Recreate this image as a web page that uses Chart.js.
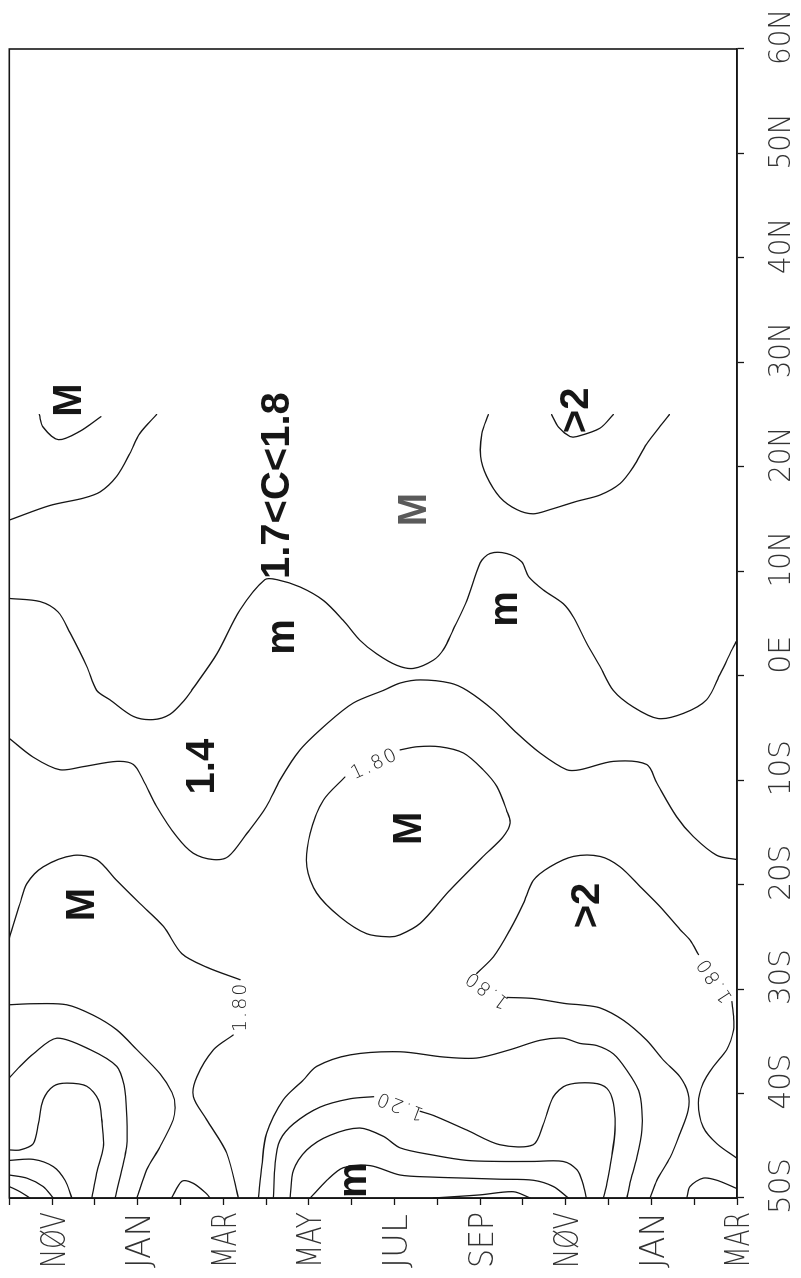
<!DOCTYPE html>
<html>
<head>
<meta charset="utf-8">
<title>Seasonal contour chart</title>
<script src="https://cdn.jsdelivr.net/npm/chart.js@4.4.0/dist/chart.umd.min.js"></script>
<style>
  html, body { margin: 0; padding: 0; background: #fff; overflow: hidden; }
  #wrap {
    position: absolute; left: 0; top: 0;
    width: 1278px; height: 801px;
    transform-origin: 0 0;
    transform: translateY(1278px) rotate(-90deg);
  }
</style>
</head>
<body>
<div id="wrap"><canvas id="contourChart" width="1278" height="801"></canvas></div>
<script>
// Axis labels (month index 0 = OCT, latitude in degrees, south negative)
const monthTicks = ['', 'NØV', '', 'JAN', '', 'MAR', '', 'MAY', '', 'JUL', '', 'SEP', '', 'NØV', '', 'JAN', '', 'MAR'];
const latTicks = ['50S', '40S', '30S', '20S', '10S', '0E', '10N', '20N', '30N', '40N', '50N', '60N'];

// Contour lines, each point is [month index, latitude]
const contourA = [[0.70, 25.0], [0.79, 23.8], [1.15, 22.6], [1.65, 23.4], [2.14, 24.8]];
const contourB = [[3.44, 25.0], [3.05, 23.2], [2.82, 21.3], [2.51, 19.1], [2.12, 17.6], [1.73, 17.0], [0.95, 16.3], [0, 14.9]];
const contourC = [[0, 7.4], [0.72, 7.1], [1.14, 6.1], [1.42, 4.1], [1.81, 0.9], [2.04, -1.4], [2.35, -2.3], [2.90, -3.9], [3.36, -4.2], [3.75, -3.7], [4.10, -2.3], [4.26, -1.4], [4.85, 2.1], [5.39, 6.3], [5.97, 9.2], [6.25, 9.2], [6.79, 8.5], [7.34, 7.2], [7.80, 5.3], [8.19, 3.4], [8.58, 2.1], [9.05, 1.0], [9.44, 0.7], [9.91, 1.5], [10.14, 2.5], [10.37, 4.4], [10.69, 7.2], [11.00, 10.8], [11.23, 11.7], [11.62, 11.7], [11.97, 10.9], [12.13, 9.5], [12.48, 8.2], [12.94, 6.9], [13.18, 5.6], [13.49, 3.1], [13.80, 0.9], [14.11, -1.4], [14.58, -3.0], [15.16, -4.1], [15.75, -3.6], [16.29, -2.3], [16.61, 0.2], [16.92, 2.8], [17, 3.4]];
const contourD = [[12.67, 25.0], [12.83, 23.8], [13.10, 22.9], [13.26, 22.9], [13.80, 23.7], [14.11, 25.0]];
const contourE = [[11.19, 25.0], [11.04, 23.2], [11.01, 21.0], [11.15, 19.1], [11.46, 17.1], [11.86, 15.9], [12.24, 15.5], [12.63, 15.9], [13.26, 16.7], [13.80, 17.3], [14.27, 18.4], [14.58, 20.0], [14.89, 22.2], [15.13, 23.5], [15.42, 25.0]];
const contourF = [[0, -6.0], [0.56, -7.8], [1.18, -9.0], [1.73, -8.7], [2.51, -8.2], [2.90, -8.5], [3.13, -10.0], [3.44, -12.5], [3.91, -15.4], [4.30, -17.0], [4.77, -17.6], [5.12, -17.3], [5.55, -15.1], [6.01, -12.5], [6.32, -10.0], [6.79, -7.1], [7.42, -4.6], [8.04, -2.6], [8.74, -1.4], [9.13, -0.7], [9.60, -0.4], [10.30, -0.7], [10.69, -1.4], [11.31, -3.3], [11.86, -5.5], [12.40, -7.4], [13.02, -9.0], [13.33, -9.0], [14.11, -8.2], [14.89, -8.5], [15.13, -10.3], [15.59, -13.5], [15.98, -15.4], [16.53, -17.2], [17, -17.6]];
const contourG = [[7.84, -9.7], [7.34, -11.9], [7.03, -15.1], [6.95, -18.3], [7.18, -20.8], [7.73, -23.1], [8.35, -24.7], [8.89, -25.0], [9.13, -24.8], [9.60, -23.7], [10.30, -20.5], [11.07, -17.3], [11.54, -15.4], [11.70, -14.1], [11.62, -12.9], [11.39, -10.6], [11.07, -9.0], [10.61, -7.4], [10.06, -6.8], [9.52, -6.8], [9.13, -7.1]];
const contourH1 = [[0, -25.1], [0.25, -21.8], [0.41, -19.9], [0.79, -18.3], [1.50, -17.2], [2.04, -17.6], [2.51, -19.6], [3.05, -21.8], [3.60, -24.0], [4.03, -26.6], [4.61, -27.9], [5.39, -29.1]];
const contourH2 = [[5.23, -34.4], [4.77, -35.8], [4.38, -38.4], [4.30, -40.3], [4.61, -42.5], [5.08, -45.7], [5.35, -50]];
const contourI1 = [[14.97, -50], [15.13, -48.3], [15.44, -46.1], [15.67, -43.8], [15.86, -41.6], [15.86, -40.0], [15.67, -38.4], [15.28, -36.8], [14.89, -34.9], [14.35, -33.0], [13.80, -31.8], [13.33, -31.5], [13.02, -31.4], [12.24, -30.9], [11.63, -30.8]];
const contourI2 = [[10.92, -28.5], [11.31, -26.9], [11.70, -24.3], [12.01, -21.8], [12.24, -19.6], [12.63, -18.3], [13.18, -17.3], [13.80, -17.3], [14.27, -18.3], [14.74, -20.2], [15.20, -22.1], [15.67, -24.3], [15.90, -25.3], [16.10, -26.7]];
const contourI3 = [[16.88, -31.2], [16.92, -32.6], [16.92, -33.9], [16.76, -35.8], [16.45, -37.4], [16.21, -39.0], [16.10, -40.9], [16.21, -43.2], [16.53, -44.8], [17, -46.2]];
const contourJ = [[5.82, -50], [5.90, -46.9], [6.01, -43.8], [6.40, -40.6], [6.87, -38.7], [7.18, -37.4], [7.96, -36.3], [9.13, -36.0], [10.14, -36.5], [10.92, -36.6], [11.70, -35.8], [12.40, -34.9], [12.94, -34.7], [13.33, -35.2], [13.72, -35.4], [14.11, -36.2], [14.43, -37.8], [14.70, -39.7], [14.78, -41.6], [14.78, -43.5], [14.66, -46.1], [14.50, -48.6], [14.43, -50]];
const contourK1 = [[8.51, -40.3], [7.96, -40.5], [7.26, -41.3], [6.64, -42.9], [6.32, -44.5], [6.21, -46.7], [6.17, -50]];
const contourK2 = [[9.60, -41.7], [9.91, -42.1], [10.69, -43.5], [11.46, -44.9], [12.24, -44.9], [12.48, -42.9], [12.71, -40.3], [13.02, -39.2], [13.64, -39.0], [13.96, -39.5], [14.11, -40.9], [14.15, -43.5], [14.07, -46.1], [13.96, -48.6], [13.88, -50]];
const contourL = [[6.56, -50], [6.64, -47.3], [6.95, -45.4], [7.49, -44.0], [8.19, -43.3], [8.74, -44.1], [9.13, -45.2], [9.91, -45.9], [10.69, -46.4], [11.46, -46.5], [12.24, -46.5], [12.94, -46.5], [13.26, -47.3], [13.40, -48.6], [13.48, -50]];
const contourM = [[7.03, -50], [7.42, -48.3], [7.80, -47.1], [8.43, -46.9], [9.13, -47.8], [9.91, -48.0], [10.69, -48.1], [11.46, -48.2], [12.24, -48.3], [12.71, -48.9], [13.06, -50]];
const contourN = [[9.91, -50], [11.00, -49.7], [11.78, -49.4], [12.17, -50]];
const contourO = [[15.83, -50], [15.90, -48.9], [16.21, -48.1], [16.53, -48.3], [17, -49.1]];
const contourP = [[3.79, -50], [4.03, -48.4], [4.30, -48.6], [4.61, -49.6], [4.69, -50]];
const contourQ = [[0, -38.5], [0.25, -37.4], [0.56, -36.2], [1.11, -34.7], [1.89, -35.8], [2.51, -37.4], [2.68, -39.2], [2.74, -41.9], [2.74, -45.1], [2.47, -50]];
const contourR = [[0, -31.5], [0.56, -31.4], [1.34, -31.5], [1.96, -32.5], [2.51, -33.9], [2.98, -35.8], [3.52, -38.1], [3.80, -39.9], [3.87, -41.1], [3.83, -42.5], [3.52, -45.1], [3.21, -47.3], [2.98, -50]];
const contourS = [[0, -45.4], [0.25, -45.4], [0.56, -44.8], [0.68, -42.9], [0.79, -40.6], [1.03, -39.3], [1.34, -39.0], [1.81, -39.3], [2.08, -40.6], [2.16, -42.5], [2.20, -45.1], [2.04, -47.6], [1.93, -50]];
const contourT = [[0, -46.4], [0.56, -46.3], [1.03, -47.0], [1.30, -48.3], [1.46, -50]];
const contourU = [[0, -47.8], [0.41, -48.1], [0.79, -48.9], [1.03, -50]];
const contourV = [[0, -48.9], [0.25, -49.4], [0.48, -50]];

const contours = [contourA, contourB, contourC, contourD, contourE, contourF, contourG, contourH1, contourH2,
  contourI1, contourI2, contourI3, contourJ, contourK1, contourK2, contourL, contourM, contourN, contourO,
  contourP, contourQ, contourR, contourS, contourT, contourU, contourV];

// Region notes
const noteText = ['M', '1.7<C<1.8', 'm', 'M', 'm', '>2', '1.4', 'M', 'M', '>2', 'm'];
const noteMonth = [1.42, 6.28, 6.39, 9.48, 11.60, 13.26, 4.53, 1.72, 9.36, 13.52, 8.08];
const noteLat = [26.4, 18.2, 3.7, 15.9, 6.4, 25.4, -8.7, -21.9, -14.6, -22.0, -48.3];

// Contour level labels
const levelText = ['1.80', '1.80', '1.80', '1.80', '1.20'];
const levelMonth = [8.54, 5.41, 11.16, 16.49, 9.13];
const levelLat = [-8.5, -31.7, -30.0, -29.1, -41.1];
const levelAngle = [65, 0, -53, -33, -69];

const INK = '#161616';
const LABEL_FONT = '"DejaVu Sans", "Liberation Sans", sans-serif';

// Draw text squeezed to a max width (plotter-style narrow lettering)
function narrowText(ctx, txt, x, y, maxW, align) {
  const w = ctx.measureText(txt).width;
  const s = Math.min(1, maxW / w);
  ctx.save();
  ctx.translate(x, y);
  ctx.scale(s, 1);
  ctx.textAlign = align;
  ctx.fillText(txt, 0, 0);
  ctx.restore();
}

// Frame around the plot area
const framePlugin = {
  id: 'frame',
  afterDatasetsDraw(chart) {
    const { ctx, chartArea: a } = chart;
    ctx.save();
    ctx.strokeStyle = INK;
    ctx.lineWidth = 1.6;
    ctx.strokeRect(a.left, a.top, a.right - a.left, a.bottom - a.top);
    ctx.restore();
  }
};

// Tick labels placed at the scales' own tick positions
const tickLabelPlugin = {
  id: 'tickLabels',
  afterDraw(chart) {
    const { ctx, scales } = chart;
    ctx.save();
    ctx.fillStyle = '#333';
    ctx.textBaseline = 'alphabetic';

    ctx.font = '200 34px ' + LABEL_FONT;
    scales.y.ticks.forEach(t => {
      const txt = monthTicks[Math.round(t.value)];
      if (!txt) return;
      const y = scales.y.getPixelForValue(t.value);
      narrowText(ctx, txt, 10, y + 12.4, 56, 'left');
    });

    ctx.font = '200 30px ' + LABEL_FONT;
    scales.x.ticks.forEach(t => {
      const txt = latTicks[Math.round((t.value + 50) / 10)];
      const x = scales.x.getPixelForValue(t.value);
      narrowText(ctx, txt, x + 40, scales.x.top + 53, 56, 'right');
    });
    ctx.restore();
  }
};

// Text notes and level labels placed through the scales
const notesPlugin = {
  id: 'notes',
  afterDatasetsDraw(chart) {
    const { ctx, scales } = chart;
    ctx.save();
    ctx.textAlign = 'center';
    ctx.textBaseline = 'middle';
    ctx.font = 'bold 40px "Liberation Sans", Arial, sans-serif';
    noteText.forEach((txt, i) => {
      const x = scales.x.getPixelForValue(noteLat[i]);
      const y = scales.y.getPixelForValue(noteMonth[i]);
      ctx.fillStyle = i === 3 ? '#5a5a5a' : INK;
      ctx.fillText(txt, x, y);
    });

    ctx.font = '200 19px ' + LABEL_FONT;
    ctx.letterSpacing = '2px';
    ctx.fillStyle = '#222';
    levelText.forEach((txt, i) => {
      const x = scales.x.getPixelForValue(levelLat[i]);
      const y = scales.y.getPixelForValue(levelMonth[i]);
      ctx.save();
      ctx.translate(x, y);
      ctx.rotate(levelAngle[i] * Math.PI / 180);
      ctx.fillText(txt, 0, 0);
      ctx.restore();
    });
    ctx.restore();
  }
};

function initContourChart() {
  const canvas = document.getElementById('contourChart');

  const datasets = contours.map(line => ({
    data: line.map(([month, lat]) => ({ x: lat, y: month })),
    showLine: true,
    pointRadius: 0,
    borderColor: INK,
    borderWidth: 1.3,
    borderJoinStyle: 'round',
    borderCapStyle: 'round',
    tension: 0.3,
    fill: false
  }));

  const gridOpts = { drawOnChartArea: false, drawTicks: true, tickLength: 7, tickColor: INK, tickWidth: 1.3 };

  new Chart(canvas, {
    type: 'scatter',
    data: { datasets },
    options: {
      responsive: false,
      animation: false,
      events: [],
      layout: { padding: { top: 9.3, right: 49, left: 0, bottom: 0 } },
      plugins: {
        legend: { display: false },
        tooltip: { enabled: false }
      },
      scales: {
        x: {
          type: 'linear',
          position: 'bottom',
          min: -50,
          max: 60,
          afterFit: scale => {
            scale.height = 64;
            scale.paddingLeft = 0;
            scale.paddingRight = 0;
          },
          border: { display: true, color: INK, width: 1.6 },
          grid: gridOpts,
          ticks: { stepSize: 10, autoSkip: false, maxRotation: 0, minRotation: 0, callback: () => '' }
        },
        y: {
          type: 'linear',
          position: 'left',
          min: 0,
          max: 17,
          reverse: true,
          afterFit: scale => {
            scale.width = 80;
            scale.paddingTop = 0;
            scale.paddingBottom = 0;
          },
          border: { display: true, color: INK, width: 1.6 },
          grid: gridOpts,
          ticks: { stepSize: 1, autoSkip: false, callback: () => '' }
        }
      }
    },
    plugins: [framePlugin, notesPlugin, tickLabelPlugin]
  });
}

initContourChart();
</script>
</body>
</html>
